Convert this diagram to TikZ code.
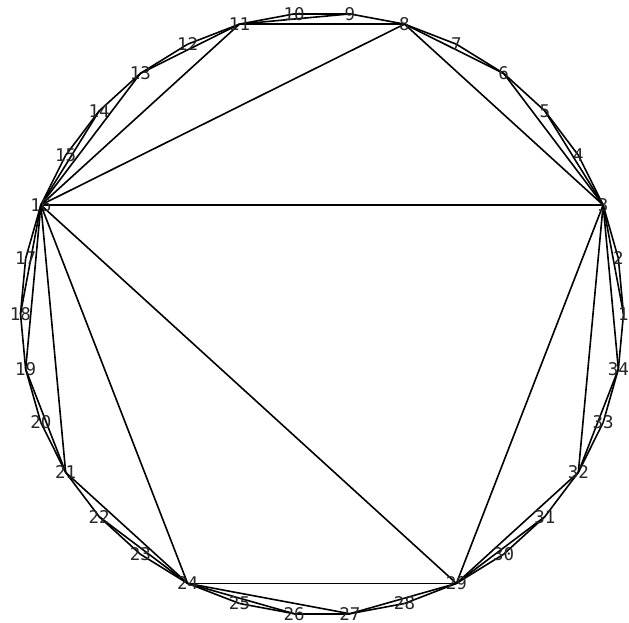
\documentclass[tikz,border=0pt]{standalone}
\usepackage{fontspec}
\setmonofont{DejaVu Sans Mono}
\begin{document}
\begin{tikzpicture}[x=1pt,y=-1pt,
  edge/.style={black,line width=1.6pt},
  vlabel/.style={font=\ttfamily\fontsize{17.5}{17.5}\selectfont,text=black!85,inner sep=0pt,anchor=center}]
\useasboundingbox (0,0) rectangle (629,622);
\foreach \i in {1,...,34}{
  \pgfmathsetmacro{\ang}{(\i-1)*360/34}
  \coordinate (p\i) at ({322+301.5*cos(\ang)},{313.8-301.2*sin(\ang)});
}
% polygon sides
\foreach \i [evaluate=\i as \j using {int(mod(\i,34)+1)}] in {1,...,34}{
  \draw[edge] (p\i) -- (p\j);
}
% diagonals
\foreach \a/\b in {11/9,11/8,11/13,13/16,14/16,11/16,8/16,8/6,6/3,5/3,8/3,3/16,3/1,3/34,34/32,3/32,3/29,29/32,29/31,16/29,24/29,27/29,24/27,24/26,16/24,16/21,21/24,22/24,16/19,19/21,16/18}{
  \draw[edge] (p\a) -- (p\b);
}
\foreach \i in {1,...,34}{
  \node[vlabel] (l\i) at (p\i) {\i};
}
\end{tikzpicture}
\end{document}
